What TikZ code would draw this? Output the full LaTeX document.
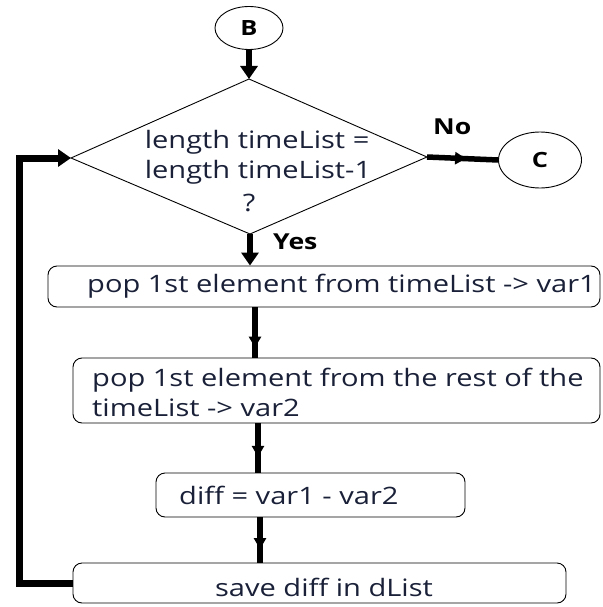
\documentclass[tikz,border=0pt]{standalone}
\usepackage{fontspec}
\setmainfont{Open Sans}[FakeStretch=1.21]
\usetikzlibrary{shapes.geometric,arrows.meta,decorations.markings,calc}
\definecolor{textc}{RGB}{25,32,55}
\begin{document}
\begin{tikzpicture}[x=1pt,y=-1pt,
  thin line/.style={line width=0.9pt},
  conn/.style={line width=5.5pt},
  endtip/.style={-{Triangle[width=17pt,length=13pt]}},
  midtip/.style={postaction={decorate},decoration={markings,mark=at position #1 with {\arrow{Triangle[width=12pt,length=11pt]}}}},
  term/.style={draw,thin line,ellipse,inner sep=0pt,font=\bfseries\fontsize{21}{24}\selectfont},
  proc/.style={draw,thin line,rounded corners=9pt,inner sep=0pt},
  txt/.style={text=textc,inner sep=0pt,font=\fontsize{24}{30}\selectfont},
  lab/.style={inner sep=0pt,font=\bfseries\fontsize{22}{24}\selectfont}
]
\useasboundingbox (0,0) rectangle (602,607);

% terminals
\node[term,minimum width=68pt,minimum height=43pt] (B) at (249,28) {B};
\node[term,minimum width=83pt,minimum height=56pt] (C) at (540,160) {C};

% decision
\coordinate (dtop) at (249,79);
\coordinate (dleft) at (71,158);
\coordinate (dright) at (427,157);
\coordinate (dbot) at (250,234);
\draw[thin line] (dtop) -- (dright) -- (dbot) -- (dleft) -- cycle;
\node[txt,align=left] (dtext) at (258,157) {length timeList =\\length timeList-1};
\node[txt] (q) at (249,203) {?};

% process boxes
\node[proc,minimum width=552pt,minimum height=41pt] (p1) at (324,286.5) {};
\node[txt,anchor=west] (t1) at (87,286) {pop 1st element from timeList -> var1};
\node[proc,minimum width=527pt,minimum height=65pt] (p2) at (336.5,390.5) {};
\node[txt,anchor=west,align=left] (t2) at (92,392) {pop 1st element from the rest of the\\timeList -> var2};
\node[proc,minimum width=309pt,minimum height=44pt] (p3) at (310.5,495) {};
\node[txt,anchor=west] (t3) at (179,495) {diff = var1 - var2};
\node[proc,minimum width=493pt,minimum height=40pt] (p4) at (319.5,583) {};
\node[txt] (t4) at (324,587) {save diff in dList};

% labels
\node[lab,anchor=west] (no) at (433,127) {No};
\node[lab,anchor=west] (yes) at (273,242) {Yes};

% x positions of the vertical connectors
\coordinate (x1) at (250,0);
\coordinate (x2) at (255,0);
\coordinate (x3) at (258,0);
\coordinate (x4) at (260,0);

% connectors
\draw[conn,endtip] (B.south) -- (dtop);
\draw[conn,midtip=0.55] (dright) -- (C.west);
\draw[conn,endtip] (dbot) -- (p1.north -| x1);
\draw[conn,midtip=0.8] (p1.south -| x2) -- (p2.north -| x2);
\draw[conn,midtip=0.68] (p2.south -| x3) -- (p3.north -| x3);
\draw[conn,midtip=0.7] (p3.south -| x4) -- (p4.north -| x4);
\draw[line width=7pt,endtip] (p4.west) -- (19,583) -- (19,158) -- (dleft);
\end{tikzpicture}
\end{document}
